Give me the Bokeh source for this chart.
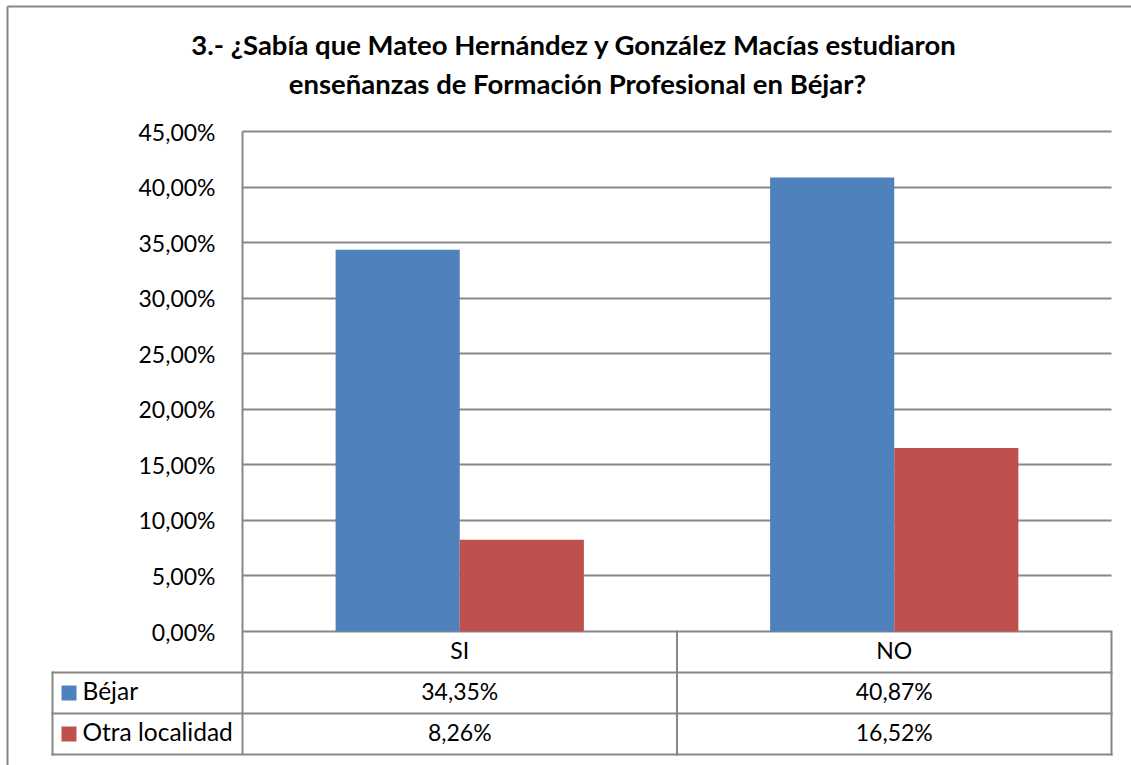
from bokeh.plotting import figure
from bokeh.models import Range1d, LinearAxis, FixedTicker, Grid, ColumnDataSource
from bokeh.transform import dodge
from bokeh.core.properties import value
from bokeh.embed import file_html
from bokeh.resources import INLINE

# ---------------- data ----------------
title_lines = ["3.- ¿Sabía que Mateo Hernández  y González Macías estudiaron",
               "enseñanzas de Formación Profesional en Béjar?"]
categories = ["SI", "NO"]
series_names = ["Béjar", "Otra localidad"]
bejar = [34.35, 40.87]
otra_localidad = [8.26, 16.52]
y_ticks = [0, 5, 10, 15, 20, 25, 30, 35, 40, 45]
y_tick_labels = ["0,00%", "5,00%", "10,00%", "15,00%", "20,00%",
                 "25,00%", "30,00%", "35,00%", "40,00%", "45,00%"]

def pct_text(v):
    return ("%.2f" % v).replace(".", ",") + "%"

# ---------------- layout (canvas pixels) ----------------
W, H = 1131, 765
PLOT_L, PLOT_R, PLOT_T, PLOT_B = 242, 1111, 131, 631
ROW_H = 41
LEG_L = 52
SWATCH_CX = 68.5
ROWLABEL_X = 82
TITLE_CX = 577
TITLE_Y = [43.5, 83]
TEXT_DY = -2.5          # baseline correction for vertically centred texts
BORDER = 7
Y_MAX = 45.0

ux = (PLOT_R - PLOT_L) / len(categories)
uy = (PLOT_B - PLOT_T) / Y_MAX

def X(cx):
    return (cx - PLOT_L) / ux

def Y(cy):
    return (PLOT_B - cy) / uy

GRAY = "#878787"
BLUE = "#4F81BD"
RED = "#C0504D"
FONT = value("Lato")

p = figure(width=W, height=H, x_range=Range1d(X(0), X(W)), y_range=Range1d(Y(H), Y(0)),
           x_axis_type=None, y_axis_type=None, title=None,
           output_backend="svg", toolbar_location=None,
           min_border_left=0, min_border_right=0, min_border_top=0, min_border_bottom=0)
p.outline_line_color = None
p.background_fill_color = "white"
p.border_fill_color = "white"

table_bottom = PLOT_B + ROW_H * (1 + len(series_names))

# y axis
ticker = FixedTicker(ticks=y_ticks)
yaxis = LinearAxis(ticker=ticker, fixed_location=0, bounds=(Y(table_bottom), Y_MAX),
                   axis_line_color=GRAY, axis_line_width=2,
                   major_tick_line_color=None, minor_tick_line_color=None,
                   major_tick_in=0, major_tick_out=0, major_label_standoff=27,
                   major_label_overrides={t: l for t, l in zip(y_ticks, y_tick_labels)},
                   major_label_text_font="Lato", major_label_text_font_size="23px",
                   major_label_text_color="black")
p.add_layout(yaxis, "left")

# gridlines
if "cross_bounds" in Grid.properties():
    grid = Grid(dimension=1, ticker=ticker, grid_line_color=GRAY, grid_line_width=2,
                cross_bounds=(0, len(categories)))
    p.add_layout(grid, "center")
else:
    p.segment(x0=[0] * len(y_ticks), x1=[len(categories)] * len(y_ticks),
              y0=y_ticks, y1=y_ticks, line_color=GRAY, line_width=2)

# bars
cat_x = [i + 0.5 for i in range(len(categories))]
src = ColumnDataSource(dict(x=cat_x, cat=categories, bejar=bejar, otra=otra_localidad))
BAR_W = 1 / 3.5
p.vbar(x=dodge("x", -BAR_W / 2), top="bejar", bottom=0, width=BAR_W, source=src,
       fill_color=BLUE, line_color=None)
p.vbar(x=dodge("x", BAR_W / 2), top="otra", bottom=0, width=BAR_W, source=src,
       fill_color=RED, line_color=None)

# data table lines
row_edges = [PLOT_B + ROW_H * k for k in range(1, 2 + len(series_names))]
hx0, hx1, hy = [], [], []
for ry in row_edges:
    hx0.append(X(LEG_L)); hx1.append(len(categories)); hy.append(Y(ry))
p.segment(x0=hx0, x1=hx1, y0=hy, y1=hy, line_color=GRAY, line_width=2, line_cap="square")
vx = [float(i) for i in range(1, len(categories) + 1)]
p.segment(x0=vx, x1=vx, y0=[0] * len(vx), y1=[Y(table_bottom)] * len(vx),
          line_color=GRAY, line_width=2, line_cap="square")
p.segment(x0=[X(LEG_L)], x1=[X(LEG_L)], y0=[Y(row_edges[0])], y1=[Y(table_bottom)],
          line_color=GRAY, line_width=2, line_cap="square")

# outer chart border (left and top; right and bottom lie outside the picture)
p.segment(x0=[X(BORDER), X(BORDER)], x1=[X(BORDER), X(W + 5)],
          y0=[Y(BORDER - 1), Y(BORDER - 1)], y1=[Y(H + 5), Y(BORDER - 1)],
          line_color=GRAY, line_width=2)

# category row
p.text(x=cat_x, y=[Y(PLOT_B + ROW_H / 2 + TEXT_DY)] * len(categories), text=categories,
       text_font=FONT, text_font_size=value("23px"), text_color="black",
       text_align="center", text_baseline="middle")

# value rows
series_values = [bejar, otra_localidad]
series_colors = [BLUE, RED]
for k, (name, vals, col) in enumerate(zip(series_names, series_values, series_colors)):
    cy = PLOT_B + ROW_H * (k + 1) + ROW_H / 2
    p.text(x=cat_x, y=[Y(cy + TEXT_DY)] * len(vals), text=[pct_text(v) for v in vals],
           text_font=FONT, text_font_size=value("23px"), text_color="black",
           text_align="center", text_baseline="middle")
    p.rect(x=[X(SWATCH_CX)], y=[Y(cy)], width=15, height=15,
           width_units="screen", height_units="screen", fill_color=col, line_color=None)
    p.text(x=[X(ROWLABEL_X)], y=[Y(cy + TEXT_DY)], text=[name],
           text_font=FONT, text_font_size=value("24.5px"), text_color="black",
           text_align="left", text_baseline="middle")

# title
p.text(x=[X(TITLE_CX)] * 2, y=[Y(t) for t in TITLE_Y], text=title_lines,
       text_font=FONT, text_font_size=value("27.5px"), text_font_style="bold",
       text_color="black", text_align="center", text_baseline="middle")

open("out.html", "w").write(file_html(p, INLINE))
